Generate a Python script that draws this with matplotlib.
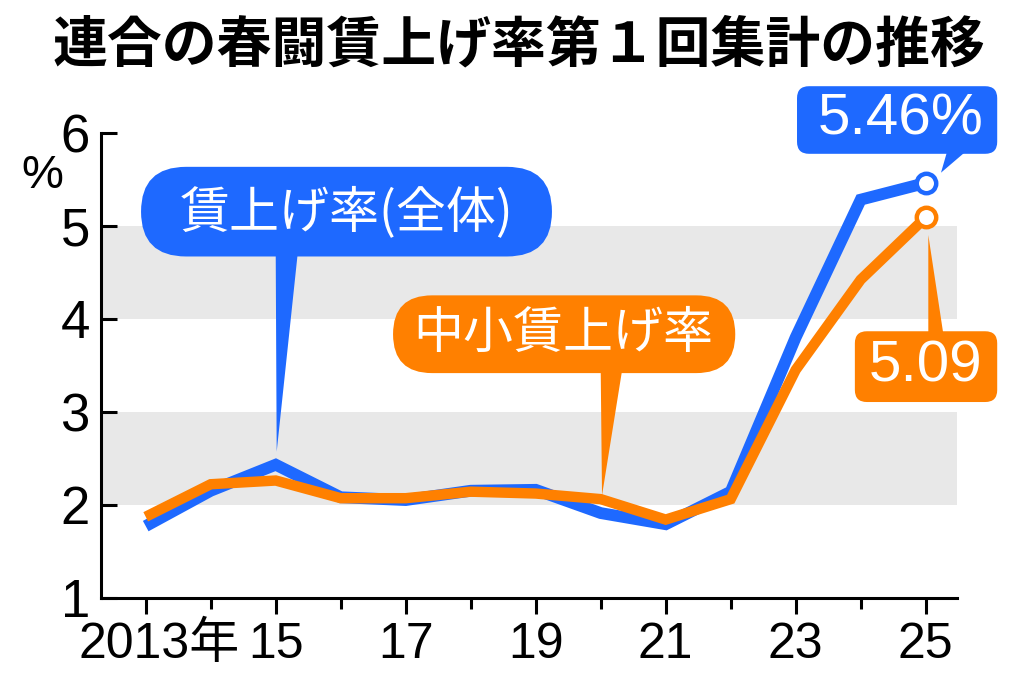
import matplotlib
matplotlib.use("Agg")
import matplotlib.pyplot as plt
import matplotlib.transforms as mtransforms
from matplotlib.patches import FancyBboxPatch, Polygon

plt.rcParams["font.family"] = ["Liberation Sans", "Noto Sans CJK JP"]

# データ（連合 春闘 第1回集計）
years = list(range(2013, 2026))
overall = [1.77, 2.15, 2.43, 2.08, 2.05, 2.15, 2.16, 1.91, 1.79, 2.14, 3.80, 5.28, 5.46]
sme = [1.87, 2.22, 2.26, 2.07, 2.07, 2.14, 2.12, 2.06, 1.84, 2.06, 3.45, 4.42, 5.09]
major_years = [2013, 2015, 2017, 2019, 2021, 2023, 2025]
major_labels = ["2013年", "15", "17", "19", "21", "23", "25"]
minor_years = [2014, 2016, 2018, 2020, 2022, 2024]
y_ticks = [1, 2, 3, 4, 5, 6]
bands = [(2, 3), (4, 5)]

BLUE = "#1e69ff"
ORANGE = "#ff8000"
GRAY = "#e8e8e8"

W, H = 1024, 678
fig = plt.figure(figsize=(W / 100, H / 100), dpi=100)
ax = fig.add_axes([101 / W, 1 - 597.7 / H, (957.3 - 101) / W, (597.7 - 132.7) / H])

ax.set_xlim(2012.312, 2025.486)
ax.set_ylim(1, 6)

# 灰色の帯
for lo, hi in bands:
    ax.axhspan(lo, hi, color=GRAY, zorder=0, lw=0)

# 折れ線
ax.plot(years, overall, color=BLUE, lw=8.5, solid_joinstyle="miter",
        solid_capstyle="butt", zorder=3)
ax.plot(years, sme, color=ORANGE, lw=7.5, solid_joinstyle="miter",
        solid_capstyle="butt", zorder=3.5)
ax.plot(years[-1], overall[-1], "o", ms=14, mfc="white", mec=BLUE, mew=3.2, zorder=4)
ax.plot(years[-1], sme[-1], "o", ms=14, mfc="white", mec=ORANGE, mew=3.2, zorder=4)

# 軸
for s in ["top", "right"]:
    ax.spines[s].set_visible(False)
for s in ["left", "bottom"]:
    ax.spines[s].set_linewidth(2.2)
ax.set_yticks(y_ticks)
ax.set_yticklabels([str(v) for v in y_ticks])
ax.tick_params(axis="y", direction="in", length=11.5, width=2.2, pad=8, labelsize=38)
ax.set_xticks(major_years)
ax.set_xticklabels(major_labels)
ax.set_xticks(minor_years, minor=True)
ax.tick_params(axis="x", which="major", direction="out", length=11.5, width=2.2,
               pad=6, labelsize=36)
ax.tick_params(axis="x", which="minor", direction="out", length=8, width=2.2)
first = ax.get_xticklabels()[0]
first.set_transform(first.get_transform() +
                    mtransforms.ScaledTranslation(0.13, 0, fig.dpi_scale_trans))

fig.text(42 / W, 1 - 176 / H, "%", fontsize=34, ha="center", va="center")

# タイトル
fig.text(519 / W, 1 - 45 / H, "連合の春闘賃上げ率第１回集計の推移",
         fontsize=39.5, fontweight="bold", family=["Noto Sans CJK JP"],
         ha="center", va="center")

# 吹き出し
XPX, YPX = 65.0, 93.3  # 1年 / 1ポイント あたりのピクセル


def callout(x0, x1, y0, y1, radius_px, color, text, tx, ty, pointer, fontsize, family):
    box = FancyBboxPatch((x0, y0), x1 - x0, y1 - y0,
                         boxstyle=f"round,pad=0,rounding_size={radius_px / XPX}",
                         mutation_aspect=XPX / YPX, fc=color, ec="none",
                         zorder=6, clip_on=False)
    ax.add_patch(box)
    ax.add_patch(Polygon(pointer, closed=True, fc=color, ec="none",
                         zorder=5.9, clip_on=False))
    ax.text(tx, ty, text, color="white", fontsize=fontsize, family=family,
            ha="center", va="center", zorder=7, clip_on=False)


cjk = ["Noto Sans CJK JP"]
num = ["Liberation Sans"]

callout(2012.928, 2019.25, 4.669, 5.633, 45, BLUE, "賃上げ率(全体)", 2016.095, 5.14,
        [(2015.0, 4.70), (2015.338, 4.70), (years[2] + 0.015, overall[2] + 0.14)],
        36, cjk)
callout(2016.805, 2022.07, 3.415, 4.251, 39, ORANGE, "中小賃上げ率", 2019.42, 3.833,
        [(2020.0, 3.45), (2020.33, 3.45), (years[7] + 0.02, sme[7] + 0.04)],
        36, cjk)
callout(2023.02, 2026.10, 5.773, 6.50, 12, BLUE, "5.46%", 2024.62, 6.137,
        [(2025.33, 5.80), (2025.62, 5.80), (years[-1] + 0.235, overall[-1] + 0.11)],
        42, num)
callout(2023.91, 2026.10, 3.104, 3.865, 12, ORANGE, "5.09", 2025.0, 3.484,
        [(2025.04, 3.84), (2025.27, 3.84), (years[-1] + 0.04, sme[-1] - 0.19)],
        42, num)

fig.savefig("out.png", dpi=100, facecolor="white")
